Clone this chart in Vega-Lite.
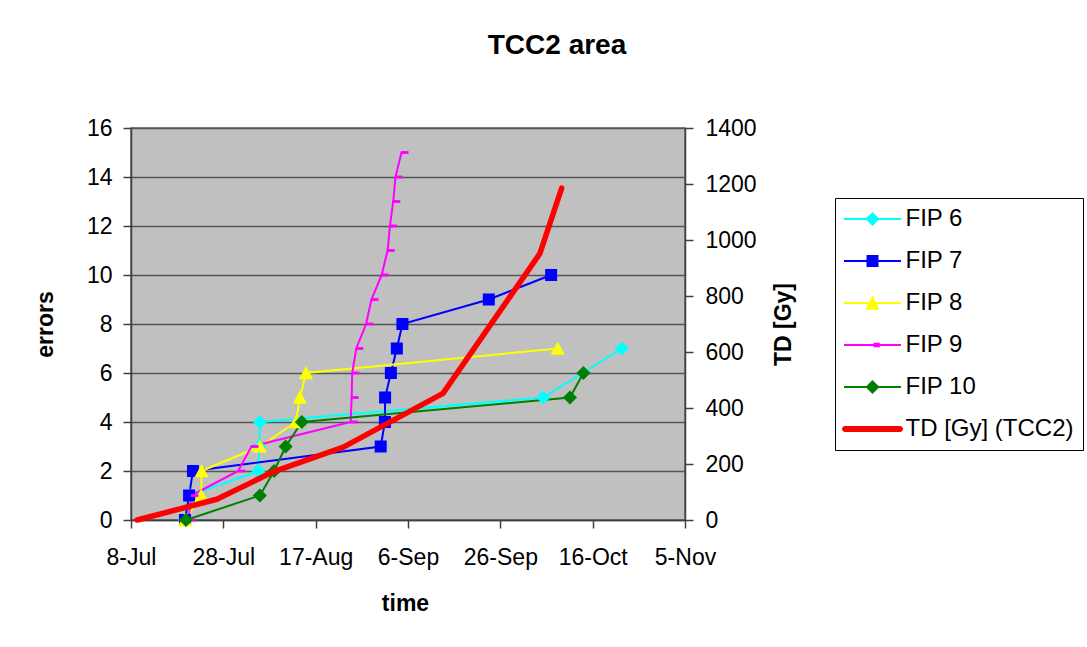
{
  "$schema": "https://vega.github.io/schema/vega-lite/v6.json",
  "width": 554,
  "height": 392,
  "autosize": {"type": "none"},
  "padding": {"left": 131, "top": 128, "right": 402, "bottom": 127},
  "background": "white",
  "title": {"text": "TCC2 area", "font": "Liberation Sans", "fontSize": 28, "fontWeight": "bold", "color": "black", "anchor": "middle", "frame": "group", "dx": 149, "offset": 43, "baseline": "middle"},
  "config": {
    "view": {"fill": "#C0C0C0", "stroke": "#606060", "strokeWidth": 1.5},
    "axis": {"labelFont": "Liberation Sans", "titleFont": "Liberation Sans", "labelColor": "black", "titleColor": "black", "labelFontSize": 23, "titleFontSize": 23, "titleFontWeight": "bold", "domainColor": "#404040", "tickColor": "#404040", "domainWidth": 1.5, "tickWidth": 1.5, "tickSize": 8, "labelFlush": false, "labelOverlap": false, "labelBound": false}
  },
  "data": {"values": [
    {"series": "FIP 6", "date": "2008-07-19T17:00", "value": 0},
    {"series": "FIP 6", "date": "2008-07-20T17:00", "value": 1},
    {"series": "FIP 6", "date": "2008-08-04T14:00", "value": 2},
    {"series": "FIP 6", "date": "2008-08-04T19:00", "value": 3},
    {"series": "FIP 6", "date": "2008-08-04T22:00", "value": 4},
    {"series": "FIP 6", "date": "2008-10-05T07:00", "value": 5},
    {"series": "FIP 6", "date": "2008-10-22T07:00", "value": 7},
    {"series": "FIP 7", "date": "2008-07-19T17:00", "value": 0},
    {"series": "FIP 7", "date": "2008-07-20T14:00", "value": 1},
    {"series": "FIP 7", "date": "2008-07-21T10:00", "value": 2},
    {"series": "FIP 7", "date": "2008-08-31T02:00", "value": 3},
    {"series": "FIP 7", "date": "2008-09-01T00:00", "value": 4},
    {"series": "FIP 7", "date": "2008-09-01T01:00", "value": 5},
    {"series": "FIP 7", "date": "2008-09-02T07:00", "value": 6},
    {"series": "FIP 7", "date": "2008-09-03T14:00", "value": 7},
    {"series": "FIP 7", "date": "2008-09-04T19:00", "value": 8},
    {"series": "FIP 7", "date": "2008-09-23T12:00", "value": 9},
    {"series": "FIP 7", "date": "2008-10-07T00:00", "value": 10},
    {"series": "FIP 8", "date": "2008-07-19T17:00", "value": 0},
    {"series": "FIP 8", "date": "2008-07-23T05:00", "value": 1},
    {"series": "FIP 8", "date": "2008-07-23T07:00", "value": 2},
    {"series": "FIP 8", "date": "2008-08-04T22:00", "value": 3},
    {"series": "FIP 8", "date": "2008-08-12T17:00", "value": 4},
    {"series": "FIP 8", "date": "2008-08-13T14:00", "value": 5},
    {"series": "FIP 8", "date": "2008-08-14T22:00", "value": 6},
    {"series": "FIP 8", "date": "2008-10-08T10:00", "value": 7},
    {"series": "FIP 9", "date": "2008-07-20T10:00", "value": 0},
    {"series": "FIP 9", "date": "2008-07-21T02:00", "value": 1},
    {"series": "FIP 9", "date": "2008-07-31T05:00", "value": 2},
    {"series": "FIP 9", "date": "2008-08-03T02:00", "value": 3},
    {"series": "FIP 9", "date": "2008-08-24T14:00", "value": 4},
    {"series": "FIP 9", "date": "2008-08-24T19:00", "value": 5},
    {"series": "FIP 9", "date": "2008-08-24T22:00", "value": 6},
    {"series": "FIP 9", "date": "2008-08-25T19:00", "value": 7},
    {"series": "FIP 9", "date": "2008-08-27T22:00", "value": 8},
    {"series": "FIP 9", "date": "2008-08-29T02:00", "value": 9},
    {"series": "FIP 9", "date": "2008-08-31T07:00", "value": 10},
    {"series": "FIP 9", "date": "2008-09-01T14:00", "value": 11},
    {"series": "FIP 9", "date": "2008-09-02T02:00", "value": 12},
    {"series": "FIP 9", "date": "2008-09-02T19:00", "value": 13},
    {"series": "FIP 9", "date": "2008-09-03T07:00", "value": 14},
    {"series": "FIP 9", "date": "2008-09-04T14:00", "value": 15},
    {"series": "FIP 10", "date": "2008-07-19T22:00", "value": 0},
    {"series": "FIP 10", "date": "2008-08-04T22:00", "value": 1},
    {"series": "FIP 10", "date": "2008-08-08T00:00", "value": 2},
    {"series": "FIP 10", "date": "2008-08-10T12:00", "value": 3},
    {"series": "FIP 10", "date": "2008-08-14T00:00", "value": 4},
    {"series": "FIP 10", "date": "2008-10-11T02:00", "value": 5},
    {"series": "FIP 10", "date": "2008-10-14T00:00", "value": 6},
    {"series": "TD [Gy] (TCC2)", "date": "2008-07-09T08:00", "value": 0},
    {"series": "TD [Gy] (TCC2)", "date": "2008-07-26T14:00", "value": 74},
    {"series": "TD [Gy] (TCC2)", "date": "2008-08-07T19:00", "value": 172},
    {"series": "TD [Gy] (TCC2)", "date": "2008-08-23T00:00", "value": 260},
    {"series": "TD [Gy] (TCC2)", "date": "2008-09-13T14:00", "value": 452},
    {"series": "TD [Gy] (TCC2)", "date": "2008-10-04T14:00", "value": 952},
    {"series": "TD [Gy] (TCC2)", "date": "2008-10-09T07:00", "value": 1185}
  ]},
  "layer": [
    {
      "transform": [{"filter": "datum.series !== 'TD [Gy] (TCC2)'"}],
      "layer": [
        {
          "mark": {"type": "line", "strokeWidth": 2},
          "encoding": {
            "x": {"field": "date", "type": "temporal",
              "scale": {"domain": [{"year": 2008, "month": 7, "date": 8}, {"year": 2008, "month": 11, "date": 5}]},
              "axis": {"values": [{"year": 2008, "month": 7, "date": 8}, {"year": 2008, "month": 7, "date": 28}, {"year": 2008, "month": 8, "date": 17}, {"year": 2008, "month": 9, "date": 6}, {"year": 2008, "month": 9, "date": 26}, {"year": 2008, "month": 10, "date": 16}, {"year": 2008, "month": 11, "date": 5}],
                "format": "%-d-%b", "grid": false, "labelPadding": 18, "title": "time", "titleX": 274, "titleY": 83, "titleBaseline": "middle", "titleAlign": "center"}},
            "y": {"field": "value", "type": "quantitative",
              "scale": {"domain": [0, 16], "nice": false},
              "axis": {"values": [0, 2, 4, 6, 8, 10, 12, 14, 16], "grid": true, "gridColor": "#555555", "gridWidth": 1.5, "labelPadding": 11, "title": "errors", "titleAngle": 270, "titleX": -86, "titleY": 196, "titleBaseline": "middle", "titleAlign": "center"}},
            "color": {"field": "series", "type": "nominal",
              "scale": {"domain": ["FIP 6", "FIP 7", "FIP 8", "FIP 9", "FIP 10", "TD [Gy] (TCC2)"], "range": ["#00FFFF", "#0000FF", "#FFFF00", "#FF00FF", "#008000", "#FF0000"]},
              "legend": {"title": null, "orient": "none", "legendX": 704, "legendY": 70, "strokeColor": "black", "fillColor": "white", "padding": 9, "labelFont": "Liberation Sans", "labelFontSize": 24, "labelColor": "black", "labelOffset": 21, "labelLimit": 400, "symbolSize": 576, "symbolOffset": 16.5, "rowPadding": 18,
                "encode": {"symbols": {"update": {
                  "shape": {"signal": "datum.value === 'FIP 6' || datum.value === 'FIP 10' ? 'M-2.375,-0.083H2.375V0.083H-2.375Z M0,-0.583L0.583,0L0,0.583L-0.583,0Z' : datum.value === 'FIP 7' ? 'M-2.375,-0.083H2.375V0.083H-2.375Z M-0.5,-0.5H0.5V0.5H-0.5Z' : datum.value === 'FIP 8' ? 'M-2.375,-0.083H2.375V0.083H-2.375Z M0,-0.64L0.583,0.56H-0.583Z' : datum.value === 'FIP 9' ? 'M-2.375,-0.083H2.375V0.083H-2.375Z M0.083,-0.19H0.61V0.19H0.083Z' : 'M-2.29,-0.25H2.29A0.25,0.25 0 0 1 2.29,0.25H-2.29A0.25,0.25 0 0 1 -2.29,-0.25Z'"},
                  "fill": {"signal": "scale('color', datum.value)"},
                  "stroke": {"value": "transparent"},
                  "strokeWidth": {"value": 0},
                  "opacity": {"value": 1}
                }}}}},
            "order": {"field": "value", "type": "quantitative"}
          }
        },
        {
          "mark": {"type": "point", "filled": true, "size": 200, "opacity": 1, "strokeWidth": 0},
          "encoding": {
            "x": {"field": "date", "type": "temporal"},
            "y": {"field": "value", "type": "quantitative"},
            "color": {"field": "series", "type": "nominal"},
            "shape": {"field": "series", "type": "nominal",
              "scale": {"domain": ["FIP 6", "FIP 7", "FIP 8", "FIP 9", "FIP 10"], "range": ["M0,-1L1,0L0,1L-1,0Z", "M-0.85,-0.85H0.85V0.85H-0.85Z", "M0,-1L1,0.9H-1Z", "M-0.1,-0.2H1V0.2H-0.1Z", "M0,-1L1,0L0,1L-1,0Z"]},
              "legend": null}
          }
        }
      ]
    },
    {
      "transform": [{"filter": "datum.series === 'TD [Gy] (TCC2)'"}],
      "mark": {"type": "line", "strokeWidth": 5.5, "strokeCap": "round", "strokeJoin": "round"},
      "encoding": {
        "x": {"field": "date", "type": "temporal"},
        "y": {"field": "value", "type": "quantitative",
          "scale": {"domain": [0, 1400], "nice": false},
          "axis": {"orient": "right", "values": [0, 200, 400, 600, 800, 1000, 1200, 1400], "format": "d", "grid": false, "labelPadding": 12, "title": "TD [Gy]", "titleAngle": 270, "titleX": 98, "titleY": 196, "titleBaseline": "middle", "titleAlign": "center"}},
        "color": {"field": "series", "type": "nominal"},
        "order": {"field": "value", "type": "quantitative"}
      }
    }
  ],
  "resolve": {"scale": {"y": "independent"}}
}
